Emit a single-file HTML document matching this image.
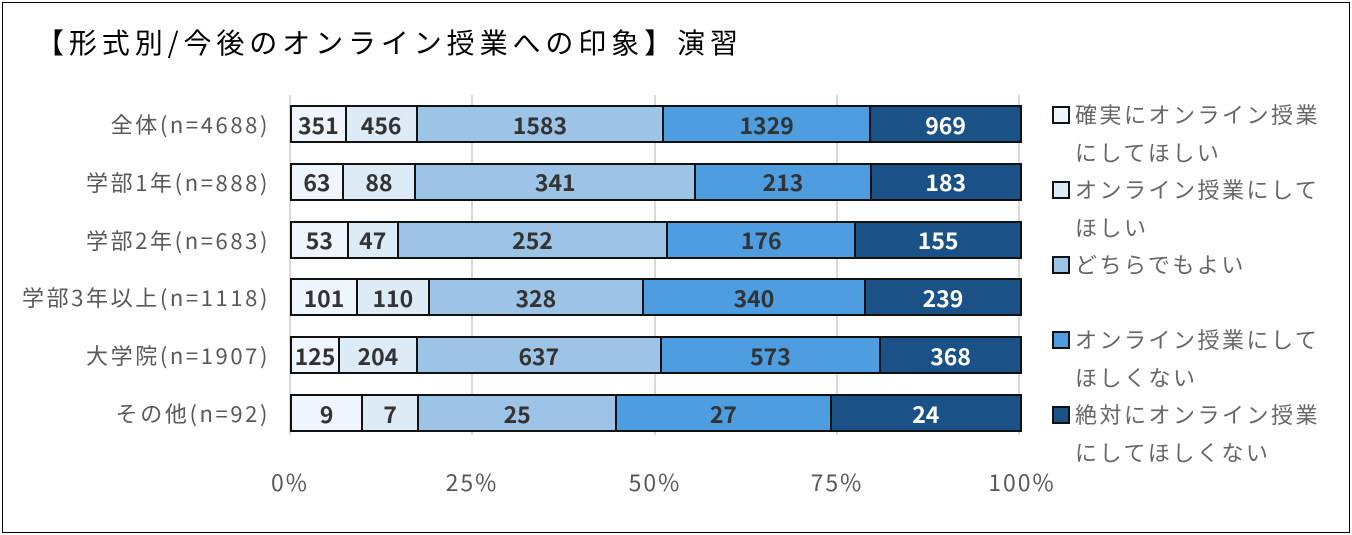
<!DOCTYPE html>
<html><head><meta charset="utf-8"><style>
body{margin:0;width:1352px;height:535px;background:#fff;font-family:"Noto Sans CJK JP","Liberation Sans",sans-serif;overflow:hidden}
.frame{position:absolute;left:2px;top:2px;width:1346px;height:529px;border:1px solid #000}
.t{position:absolute;white-space:nowrap;line-height:1}
.seg{position:absolute;box-sizing:border-box;border:2px solid #111;display:flex;align-items:center;justify-content:center;font-weight:bold;font-size:23px;color:#333;line-height:1}
.grid{position:absolute;top:95px;width:2px;height:340px;background:#d9d9d9}
.lab{position:absolute;right:1082px;font-size:22px;color:#595959;white-space:nowrap;line-height:30px;letter-spacing:2.6px}
.ax{position:absolute;top:466px;font-size:23px;color:#595959;width:120px;text-align:center;line-height:30px;letter-spacing:2px}
.lg{position:absolute;left:1075px;font-size:22px;color:#666;line-height:38px;white-space:nowrap;letter-spacing:2.5px}
.sq{position:absolute;left:1052px;width:14px;height:14px;border:2px solid #111}
</style></head><body>
<div class="frame"></div>
<div class="t" style="left:36px;top:28px;font-size:28px;color:#000;letter-spacing:4.9px">【形式別/今後のオンライン授業への印象】演習</div>
<div class="grid" style="left:289px"></div><div class="grid" style="left:471px"></div><div class="grid" style="left:654px"></div><div class="grid" style="left:836px"></div><div class="grid" style="left:1018px"></div>
<div id="bars"></div>
<div class="ax" style="left:230px">0%</div><div class="ax" style="left:412px">25%</div><div class="ax" style="left:595px">50%</div><div class="ax" style="left:777px">75%</div><div class="ax" style="left:962px">100%</div>
<div class="sq" style="top:106px;background:#eef5fc"></div><div class="lg" style="top:95px">確実にオンライン授業<br>にしてほしい</div>
<div class="sq" style="top:181px;background:#ddebf7"></div><div class="lg" style="top:170px">オンライン授業にして<br>ほしい</div>
<div class="sq" style="top:256px;background:#9dc3e6"></div><div class="lg" style="top:245px">どちらでもよい</div>
<div class="sq" style="top:331px;background:#4e9de0"></div><div class="lg" style="top:320px">オンライン授業にして<br>ほしくない</div>
<div class="sq" style="top:406px;background:#1a5186"></div><div class="lg" style="top:395px">絶対にオンライン授業<br>にしてほしくない</div>
<script>
var rows=[["全体(n=4688)",[351,456,1583,1329,969]],["学部1年(n=888)",[63,88,341,213,183]],["学部2年(n=683)",[53,47,252,176,155]],["学部3年以上(n=1118)",[101,110,328,340,239]],["大学院(n=1907)",[125,204,637,573,368]],["その他(n=92)",[9,7,25,27,24]]];
var cols=["#eef5fc","#ddebf7","#9dc3e6","#4e9de0","#1a5186"];
var h="";var x0=290,W=730;
rows.forEach(function(r,i){var top=105+i*57.8;var tot=r[1].reduce(function(a,b){return a+b},0);var c=0;
h+='<div class="lab" style="top:'+(top+4)+'px">'+r[0]+'</div>';
r[1].forEach(function(v,j){var l=x0+W*c/tot;c+=v;var rr=x0+W*c/tot;
h+='<div class="seg" style="left:'+l+'px;top:'+top+'px;width:'+(rr-l+2)+'px;height:38px;background:'+cols[j]+(j==4?';color:#fff':'')+'">'+v+'</div>';});});
document.getElementById("bars").innerHTML=h;
</script>
</body></html>
